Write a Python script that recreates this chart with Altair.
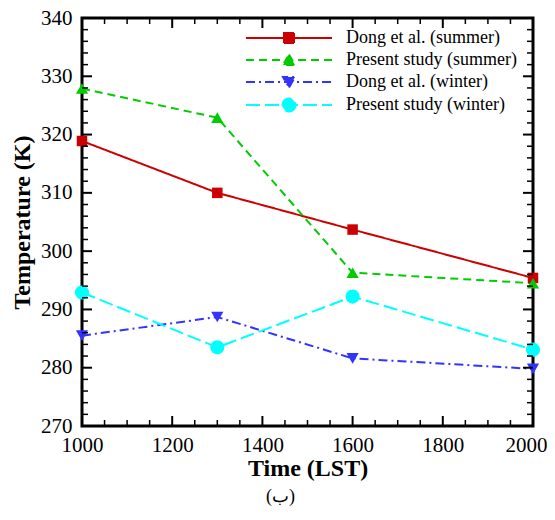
import math
import altair as alt
import pandas as pd

# ---- data ----
times = [1000, 1300, 1600, 2000]
series_names = ["Dong et al. (summer)", "Present study (summer)",
                "Dong et al. (winter)", "Present study (winter)"]
dong_summer = [318.9, 310.0, 303.7, 295.4]
present_summer = [327.9, 322.9, 296.3, 294.5]
dong_winter = [285.5, 288.7, 281.6, 279.8]
present_winter = [292.9, 283.5, 292.2, 283.1]

x_tick_values = [1000, 1200, 1400, 1600, 1800, 2000]
y_tick_values = [270, 280, 290, 300, 310, 320, 330, 340]
x_minor_values = [v for v in range(1000, 2001, 50) if v % 200]
y_minor_values = [v for v in range(270, 341, 2) if v % 10]

# ---- styles ----
colors = ["#cc0000", "#00cc00", "#3333ff", "#00ffff"]
dashes = [[1, 0], [8, 5], [9, 4, 2, 4], [14, 5]]
shapes = ["square", "triangle-up", "triangle-down", "circle"]
sizes = [110, 150, 150, 200]

# legend symbols: a long line with the marker in its middle (unit = 10 px)
def poly(pts):
    return "M" + "L".join(f"{x:.3f},{y:.3f}" for x, y in pts) + "Z"

LINE = "M-4.3,0L4.3,0"
circle_pts = [(0.65 * math.cos(2 * math.pi * k / 20), 0.65 * math.sin(2 * math.pi * k / 20)) for k in range(20)]
legend_paths = [
    LINE + poly([(-0.5, -0.5), (0.5, -0.5), (0.5, 0.5), (-0.5, 0.5)]),
    LINE + poly([(0, -0.55), (0.6, 0.5), (-0.6, 0.5)]),
    LINE + poly([(0, 0.55), (0.6, -0.5), (-0.6, -0.5)]),
    LINE + poly(circle_pts),
]

FONT = "Liberation Serif"
W, H = 451, 408

# one table: the series values plus the tick positions (kind column)
rows = []
for name, vals in zip(series_names, [dong_summer, present_summer, dong_winter, present_winter]):
    for t, v in zip(times, vals):
        rows.append({"kind": "data", "time": t, "temp": v, "series": name})
for v in y_tick_values:
    rows.append({"kind": "ymaj", "time": None, "temp": v, "series": None})
for v in y_minor_values:
    rows.append({"kind": "ymin", "time": None, "temp": v, "series": None})
for v in x_tick_values:
    rows.append({"kind": "xmaj", "time": v, "temp": None, "series": None})
for v in x_minor_values:
    rows.append({"kind": "xmin", "time": v, "temp": None, "series": None})
df = pd.DataFrame(rows)

xscale = alt.Scale(domain=[1000, 2000], nice=False, zero=False)
yscale = alt.Scale(domain=[270, 340], nice=False, zero=False)

x_axis = alt.Axis(values=x_tick_values, title="Time (LST)", format="d", tickSize=0, orient="bottom",
                  labelPadding=8, titlePadding=1, labelFlush=False, labelOverlap=False,
                  labelOffset={"condition": {"test": "datum.value == 2000", "value": -7}, "value": 0},
                  domain=False, grid=False)
y_axis = alt.Axis(values=y_tick_values, title="Temperature (K)", format="d", tickSize=0, orient="left",
                  labelPadding=10, titlePadding=6, labelFlush=False, labelOverlap=False,
                  domain=False, grid=False)

def X(axis=None):
    return alt.X("time:Q", scale=xscale, axis=axis)

def Y(axis=None):
    return alt.Y("temp:Q", scale=yscale, axis=axis)

base = alt.Chart(df)
layers = []

# one line layer and one marker layer per series
for i, (name, col, dash) in enumerate(zip(series_names, colors, dashes)):
    sub = base.transform_filter(alt.datum.series == name)
    enc = dict(x=X(x_axis), y=Y(y_axis)) if i == 0 else dict(x=X(), y=Y())
    layers.append(sub.mark_line(color=col, strokeDash=dash, strokeWidth=2).encode(**enc))
for name, shp, sz, col in zip(series_names, shapes, sizes, colors):
    sub = base.transform_filter(alt.datum.series == name)
    layers.append(sub.mark_point(filled=True, shape=shp, size=sz, color=col, opacity=1,
                                 strokeWidth=0).encode(x=X(), y=Y()))

# inward ticks on all four sides
for ky, kx, L, w in [("ymaj", "xmaj", 10, 2), ("ymin", "xmin", 6, 1.5)]:
    ry = base.transform_filter(alt.datum.kind == ky).mark_rule(color="black", strokeWidth=w, strokeCap="butt")
    rx = base.transform_filter(alt.datum.kind == kx).mark_rule(color="black", strokeWidth=w, strokeCap="butt")
    layers.append(ry.encode(y=Y(), x=alt.value(0), x2=alt.value(L)))
    layers.append(ry.encode(y=Y(), x=alt.value(W), x2=alt.value(W - L)))
    layers.append(rx.encode(x=X(), y=alt.value(H), y2=alt.value(H - L)))
    layers.append(rx.encode(x=X(), y=alt.value(0), y2=alt.value(L)))

# legend (built by the library from the series domain; this layer draws no marks)
leg = alt.Legend(title=None, orient="none", legendX=150, legendY=9, symbolSize=400,
                 symbolStrokeWidth=2, symbolOffset=46, labelOffset=46, labelFont=FONT,
                 labelFontSize=18, labelColor="black", rowPadding=2, padding=0,
                 labelLimit=400, symbolOpacity=1)
legend_layer = base.transform_filter("false").mark_point(filled=True, strokeWidth=2).encode(
    x=X(), y=Y(),
    fill=alt.Fill("series:N", scale=alt.Scale(domain=series_names, range=colors), legend=leg),
    stroke=alt.Stroke("series:N", scale=alt.Scale(domain=series_names, range=colors), legend=leg),
    shape=alt.Shape("series:N", scale=alt.Scale(domain=series_names, range=legend_paths), legend=leg),
    strokeDash=alt.StrokeDash("series:N", scale=alt.Scale(domain=series_names, range=dashes), legend=leg),
)
layers.append(legend_layer)

chart = alt.layer(*layers).resolve_axis(x="independent", y="independent").properties(
    width=W, height=H,
    padding={"left": 74, "top": 10, "right": 14, "bottom": 80},
    autosize=alt.AutoSizeParams(type="none"),
    title=alt.TitleParams("(ب)", orient="bottom", anchor="middle", frame="group", dx=-27,
                          offset=8, font=FONT, fontSize=18, fontWeight="normal", color="black"),
).configure_view(
    stroke="black", strokeWidth=3
).configure_axis(
    labelFont=FONT, labelFontSize=21, labelColor="black",
    titleFont=FONT, titleFontSize=24, titleFontWeight="bold", titleColor="black",
)

chart.save("out.html", embed_options={"renderer": "svg", "actions": False})
